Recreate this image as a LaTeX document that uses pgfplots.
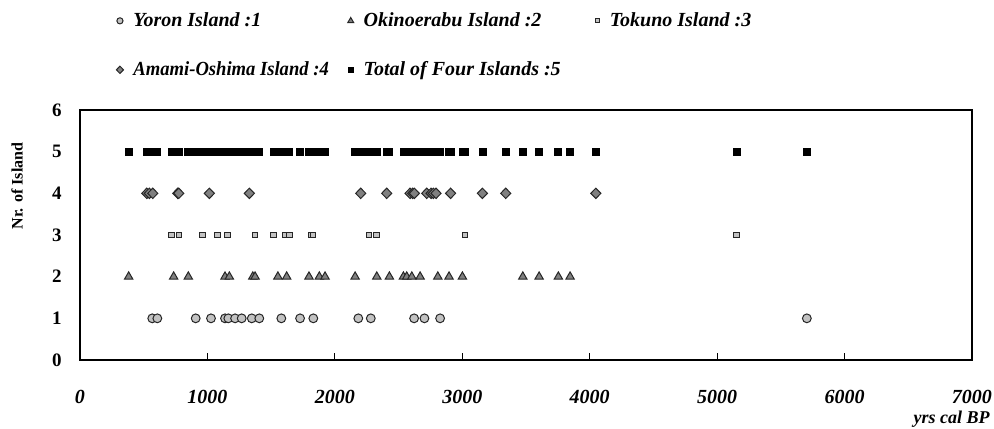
\documentclass[border=0pt]{standalone}
\usepackage{fontspec}
\setmainfont{Liberation Serif}
\usepackage{graphicx}
\usepackage{pgfplots}
\pgfplotsset{compat=1.18}
\definecolor{lightfill}{gray}{0.76}
\definecolor{midfill}{gray}{0.5}
\begin{document}
\begin{tikzpicture}
\begin{axis}[
  scale only axis, width=446pt, height=125pt,
  xmin=0, xmax=7000, ymin=0, ymax=6,
  xtick={0,1000,2000,3000,4000,5000,6000,7000},
  ytick={0,1,2,3,4,5,6},
  xtick pos=bottom, ytick pos=left,
  tick align=inside,
  major tick length=3.5pt,
  ytick style={draw=none},
  xtick style={black, line width=0.5pt},
  axis line style={black, line width=0.75pt},
  /pgf/number format/assume math mode=true,
  /pgf/number format/1000 sep={},
  xticklabel style={font=\fontsize{10}{12}\selectfont\bfseries\itshape, anchor=base, inner sep=0pt, yshift=-21.7pt},
  yticklabel style={font=\fontsize{9.5}{11}\selectfont\bfseries, anchor=east, inner sep=0pt, xshift=-9pt},
  ylabel={Nr. of Island},
  ylabel style={font=\fontsize{8}{10}\selectfont\bfseries, at={(rel axis cs:0,0.696)}, anchor=center, yshift=31.5pt, inner sep=0pt},
  xlabel={yrs cal BP},
  xlabel style={font=\fontsize{9}{11}\selectfont\bfseries\itshape, at={(rel axis cs:1,0)}, anchor=base east, inner sep=0pt, xshift=9pt, yshift=-31.5pt},
  legend columns=3,
  legend cell align=left,
  legend style={draw=none, fill=none, inner sep=0pt,
    font=\fontsize{10}{12}\selectfont\bfseries\itshape,
    at={(rel axis cs:0,1)}, anchor=north west, xshift=18pt, yshift=51pt,
    row sep=12pt,
    /tikz/every odd column/.append style={column sep=3pt},
    /tikz/column 2/.style={column sep=7.5pt},
    /tikz/column 4/.style={column sep=15.5pt}},
  clip=false,
]
\pgfplotsset{myleg/.style={legend image code/.code={\draw[mark repeat=2,mark phase=2,##1,/tikz/every mark/.append style={scale=0.7}] plot coordinates {(0cm,0cm)(0.12cm,0cm)(0.24cm,0cm)};}}}
% Yoron Island : 1
\addplot[only marks, myleg, mark=*, mark size=2.2pt, mark options={fill=lightfill, draw=black!85, line width=0.5pt}] coordinates {
(567,1)(607,1)(908,1)(1028,1)(1138,1)(1164,1)(1217,1)(1269,1)(1348,1)(1407,1)
(1580,1)(1727,1)(1831,1)(2184,1)(2282,1)(2622,1)(2703,1)(2826,1)(5704,1)};
\addlegendentry{Yoron Island :1}
% Okinoerabu Island : 2
\addplot[only marks, myleg, mark=triangle*, mark size=2.4pt, mark options={fill=midfill, draw=black!85, line width=0.5pt}] coordinates {
(382,2)(735,2)(850,2)(1138,2)(1172,2)(1356,2)(1374,2)(1553,2)(1622,2)(1797,2)
(1878,2)(1923,2)(2159,2)(2329,2)(2428,2)(2538,2)(2564,2)(2604,2)(2669,2)(2808,2)
(2896,2)(3001,2)(3475,2)(3603,2)(3754,2)(3846,2)};
\addlegendentry{Okinoerabu Island :2}
% Tokuno Island : 3
\addplot[only marks, myleg, mark=square*, mark size=1.45pt, mark options={fill=lightfill, draw=black!85, line width=0.5pt}] coordinates {
(720,3)(777,3)(960,3)(1078,3)(1156,3)(1374,3)(1519,3)(1609,3)(1643,3)(1813,3)
(1829,3)(2268,3)(2329,3)(3022,3)(5155,3)};
\addlegendentry{Tokuno Island :3}
% Amami-Oshima Island : 4
\addplot[only marks, myleg, mark=diamond*, mark size=2.6pt, mark options={fill=midfill, draw=black!85, line width=0.5pt, xscale=1.3}] coordinates {
(524,4)(544,4)(571,4)(767,4)(775,4)(1015,4)(1329,4)(2203,4)(2407,4)(2590,4)
(2611,4)(2624,4)(2721,4)(2755,4)(2773,4)(2794,4)(2908,4)(3158,4)(3341,4)(4048,4)};
\addlegendentry{\scalebox{0.93}[1]{Amami-Oshima Island :4}}
% Total of Four Islands : 5
\addplot[only marks, myleg, mark=square*, mark size=1.75pt, mark options={fill=black, draw=black}] coordinates {
(382,5)(524,5)(544,5)(567,5)(571,5)(607,5)(720,5)(735,5)(767,5)(775,5)
(777,5)(850,5)(908,5)(960,5)(1015,5)(1028,5)(1078,5)(1138,5)(1156,5)(1164,5)
(1172,5)(1217,5)(1269,5)(1329,5)(1348,5)(1356,5)(1374,5)(1407,5)(1519,5)(1553,5)
(1580,5)(1609,5)(1622,5)(1643,5)(1727,5)(1797,5)(1813,5)(1829,5)(1831,5)(1878,5)
(1923,5)(2159,5)(2184,5)(2203,5)(2268,5)(2282,5)(2329,5)(2407,5)(2428,5)(2538,5)
(2564,5)(2590,5)(2604,5)(2611,5)(2622,5)(2624,5)(2669,5)(2703,5)(2721,5)(2755,5)
(2773,5)(2794,5)(2808,5)(2826,5)(2896,5)(2908,5)(3001,5)(3022,5)(3158,5)(3341,5)
(3475,5)(3603,5)(3754,5)(3846,5)(4048,5)(5155,5)(5704,5)};
\addlegendentry{Total of Four Islands :5}
\end{axis}
\pgfresetboundingbox
\path[use as bounding box] (-40pt,-34pt) rectangle (457pt,180pt);
\end{tikzpicture}
\end{document}
